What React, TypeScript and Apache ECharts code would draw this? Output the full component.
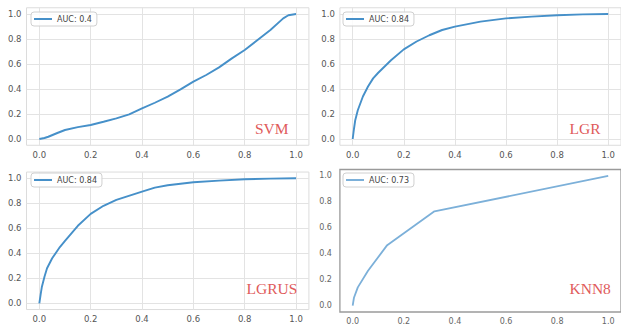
import React, { useEffect, useRef } from "react";
import * as echarts from "echarts";

// ---- data ----
const tickValues = [0, 0.2, 0.4, 0.6, 0.8, 1.0];
const panelTitles = ["SVM", "LGR", "LGRUS", "KNN8"];
const legendNames = ["AUC: 0.4", "AUC: 0.84", "AUC: 0.84", "AUC: 0.73"];

const fprSVM = [0, 0.02, 0.035, 0.07, 0.1, 0.15, 0.2, 0.25, 0.3, 0.35, 0.4, 0.45, 0.5, 0.55, 0.6, 0.65, 0.7, 0.75, 0.8, 0.85, 0.9, 0.95, 0.97, 1.0];
const tprSVM = [0, 0.008, 0.018, 0.048, 0.072, 0.095, 0.112, 0.138, 0.165, 0.197, 0.245, 0.29, 0.339, 0.397, 0.459, 0.512, 0.573, 0.645, 0.712, 0.792, 0.872, 0.965, 0.99, 1.0];

const fprLGR = [0, 0.005, 0.01, 0.02, 0.04, 0.06, 0.08, 0.1, 0.15, 0.2, 0.25, 0.3, 0.35, 0.4, 0.5, 0.6, 0.7, 0.8, 0.9, 1.0];
const tprLGR = [0, 0.08, 0.15, 0.23, 0.34, 0.42, 0.485, 0.53, 0.63, 0.717, 0.78, 0.83, 0.872, 0.899, 0.939, 0.965, 0.979, 0.99, 0.997, 1.0];

const fprLGRUS = [0, 0.005, 0.01, 0.02, 0.03, 0.05, 0.08, 0.1, 0.15, 0.2, 0.25, 0.3, 0.4, 0.45, 0.5, 0.6, 0.7, 0.8, 0.9, 1.0];
const tprLGRUS = [0, 0.07, 0.133, 0.213, 0.28, 0.36, 0.45, 0.5, 0.62, 0.715, 0.78, 0.827, 0.893, 0.925, 0.944, 0.968, 0.981, 0.992, 0.997, 1.0];

const fprKNN = [0, 0.005, 0.02, 0.06, 0.135, 0.32, 1.0];
const tprKNN = [0, 0.06, 0.14, 0.268, 0.466, 0.727, 1.0];

const fprs = [fprSVM, fprLGR, fprLGRUS, fprKNN];
const tprs = [tprSVM, tprLGR, tprLGRUS, tprKNN];

// ---- layout ----
const grids = [
  { left: 26.5, top: 7.75, width: 282.4, height: 137.5 },
  { left: 339.9, top: 7.75, width: 282.4, height: 137.5 },
  { left: 26.5, top: 172.05, width: 282.4, height: 137.5 },
  { left: 339.9, top: 169.5, width: 282.4, height: 143.7 },
];
const legendPos = [
  { left: 31, top: 12 },
  { left: 343, top: 12 },
  { left: 31, top: 173 },
  { left: 343, top: 173 },
];
const titlePos = [
  { x: 255, y: 128 },
  { x: 569.5, y: 128 },
  { x: 246.5, y: 288.5 },
  { x: 569.5, y: 288.5 },
];

export default function App() {
  const ref = useRef<HTMLDivElement>(null);
  useEffect(() => {
    if (!ref.current) return;
    const chart = echarts.init(ref.current, undefined, { renderer: "svg" });
    const isKnn = (i: number) => i === 3;
    const fmt = (v: number) => v.toFixed(1);
    const lineColor = (i: number) => (isKnn(i) ? "#7cb0d9" : "#4690c9");

    const option: any = {
      animation: false,
      backgroundColor: "#ffffff",
      grid: grids.map((g, i) => ({
        ...g,
        show: true,
        borderColor: isKnn(i) ? "#9a9a9a" : "#dcdcdc",
        borderWidth: isKnn(i) ? 1.3 : 1,
        backgroundColor: "transparent",
        containLabel: false,
      })),
      xAxis: grids.map((_, i) => ({
        type: "value",
        gridIndex: i,
        min: -0.05,
        max: 1.05,
        axisLine: { show: false },
        axisTick: { show: false, customValues: tickValues },
        axisLabel: {
          customValues: tickValues,
          formatter: fmt,
          fontFamily: "DejaVu Sans",
          fontSize: isKnn(i) ? 8 : 8.5,
          color: isKnn(i) ? "#666" : "#555",
          margin: 5,
        },
        splitLine: {
          show: !isKnn(i),
          lineStyle: { color: "#e3e3e3", width: 1 },
        },
      })),
      yAxis: grids.map((_, i) => ({
        type: "value",
        gridIndex: i,
        min: -0.05,
        max: 1.05,
        axisLine: { show: false },
        axisTick: { show: false, customValues: tickValues },
        axisLabel: {
          customValues: tickValues,
          formatter: fmt,
          fontFamily: "DejaVu Sans",
          fontSize: isKnn(i) ? 8 : 8.5,
          color: isKnn(i) ? "#666" : "#555",
          margin: isKnn(i) ? 8 : 5,
        },
        splitLine: {
          show: !isKnn(i),
          lineStyle: { color: "#e3e3e3", width: 1 },
        },
      })),
      legend: legendPos.map((p, i) => ({
        ...p,
        data: [legendNames[i]],
        orient: "vertical",
        icon: "rect",
        itemWidth: 18,
        itemHeight: 2,
        itemGap: 0,
        padding: [3, 5, 3, 3],
        backgroundColor: "rgba(255,255,255,0.85)",
        borderColor: "#d0d0d0",
        borderWidth: 1,
        borderRadius: 3,
        selectedMode: false,
        textStyle: {
          fontFamily: "DejaVu Sans",
          fontSize: 8,
          color: "#444",
          padding: [0, 0, 0, 0],
        },
      })),
      series: fprs.map((fpr, i) => ({
        type: "line",
        name: legendNames[i],
        xAxisIndex: i,
        yAxisIndex: i,
        showSymbol: false,
        symbol: "none",
        data: fpr.map((x, k) => [x, tprs[i][k]]),
        lineStyle: {
          color: lineColor(i),
          width: isKnn(i) ? 1.8 : 1.9,
        },
        itemStyle: { color: lineColor(i) },
        emphasis: { disabled: true },
        z: 3,
      })),
      graphic: panelTitles.map((t, i) => ({
        type: "text",
        x: titlePos[i].x,
        y: titlePos[i].y,
        z: 10,
        style: {
          text: t,
          font: '15.5px "Liberation Serif", "Times New Roman", serif',
          fill: "#e05a5a",
          textAlign: "left",
          textVerticalAlign: "middle",
        },
      })),
    };
    chart.setOption(option);
    return () => chart.dispose();
  }, []);
  return (
    <div
      ref={ref}
      style={{ position: "fixed", left: 0, top: 0, width: 621, height: 325 }}
    />
  );
}
